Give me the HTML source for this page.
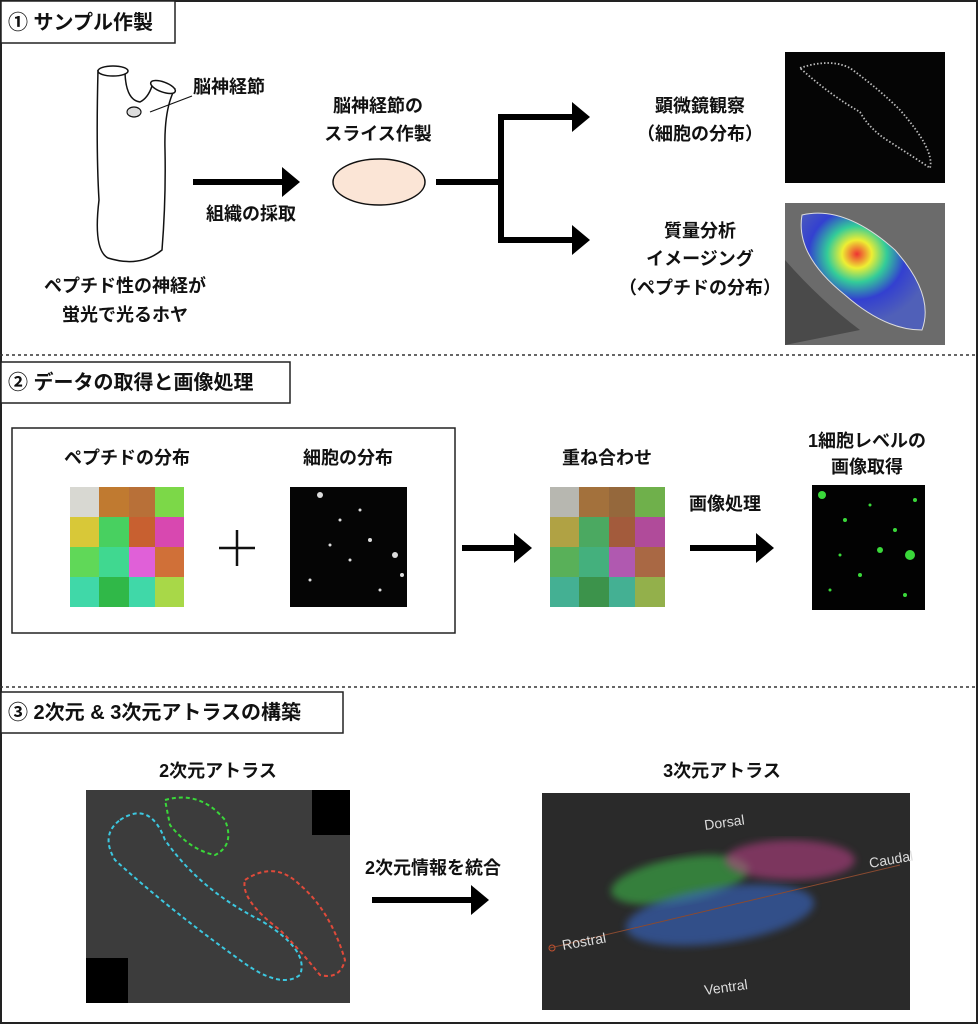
<!DOCTYPE html>
<html><head><meta charset="utf-8"><style>
html,body{margin:0;padding:0;background:#fff}
svg{display:block}
text{font-family:"Liberation Sans","Noto Sans CJK JP",sans-serif;font-weight:bold;fill:#111}
</style></head><body>
<svg width="978" height="1024" viewBox="0 0 978 1024" xmlns="http://www.w3.org/2000/svg">
<defs>
<marker id="ah" markerWidth="4" markerHeight="5" refX="2" refY="2.5" orient="auto" markerUnits="strokeWidth"><path d="M0,0 L3,2.5 L0,5 Z" fill="#000"/></marker>
<radialGradient id="heat" cx="45%" cy="35%" r="60%"><stop offset="0" stop-color="#e33"/><stop offset="0.2" stop-color="#ee3"/><stop offset="0.4" stop-color="#3c9"/><stop offset="0.65" stop-color="#3340d0"/><stop offset="1" stop-color="#5060b8"/></radialGradient>
<filter id="bl"><feGaussianBlur stdDeviation="4"/></filter>
</defs>
<rect x="1" y="1" width="976" height="1022" fill="none" stroke="#222" stroke-width="2"/>
<rect x="1" y="1" width="174" height="42" fill="#fff" stroke="#222" stroke-width="1.5"/>
<text x="8" y="29" font-size="20">① サンプル作製</text>
<line x1="0" y1="355" x2="978" y2="355" stroke="#333" stroke-width="1.5" stroke-dasharray="3,3"/>
<rect x="1" y="362" width="289" height="41" fill="#fff" stroke="#222" stroke-width="1.5"/>
<text x="8" y="389" font-size="20">② データの取得と画像処理</text>
<line x1="0" y1="687" x2="978" y2="687" stroke="#333" stroke-width="1.5" stroke-dasharray="3,3"/>
<rect x="1" y="692" width="342" height="41" fill="#fff" stroke="#222" stroke-width="1.5"/>
<text x="8" y="719" font-size="20">③ 2次元 &amp; 3次元アトラスの構築</text>

<path d="M98,70 Q96,150 99,200 Q93,250 108,258 Q140,268 162,250 Q166,200 165,150 Q164,115 172,95 L175,88" fill="none" stroke="#111" stroke-width="1.5"/>
<path d="M125,73 Q126,100 140,102 Q148,98 152,86" fill="none" stroke="#111" stroke-width="1.5"/>
<ellipse cx="113" cy="71" rx="15" ry="5" fill="#fff" stroke="#111" stroke-width="1.5"/>
<ellipse cx="163" cy="87" rx="13" ry="5" transform="rotate(20 163 87)" fill="#fff" stroke="#111" stroke-width="1.5"/>
<ellipse cx="134" cy="112" rx="7" ry="5" fill="#ddd" stroke="#111" stroke-width="1.2"/>
<line x1="150" y1="112" x2="192" y2="96" stroke="#111" stroke-width="1.2"/>
<text x="193" y="93" font-size="18">脳神経節</text>
<text x="125" y="292" font-size="18" text-anchor="middle">ペプチド性の神経が</text>
<text x="125" y="321" font-size="18" text-anchor="middle">蛍光で光るホヤ</text>
<line x1="193" y1="182" x2="294" y2="182" stroke="#000" stroke-width="6" marker-end="url(#ah)"/>
<text x="251" y="220" font-size="18" text-anchor="middle">組織の採取</text>
<text x="378" y="112" font-size="18" text-anchor="middle">脳神経節の</text>
<text x="378" y="140" font-size="18" text-anchor="middle">スライス作製</text>
<ellipse cx="379" cy="182" rx="46" ry="23" fill="#fbe5d6" stroke="#111" stroke-width="1.5"/>
<polyline points="436,182 501,182" stroke="#000" stroke-width="6" fill="none"/>
<line x1="501" y1="114" x2="501" y2="243" stroke="#000" stroke-width="6"/>
<line x1="498" y1="117" x2="584" y2="117" stroke="#000" stroke-width="6" marker-end="url(#ah)"/>
<line x1="498" y1="240" x2="584" y2="240" stroke="#000" stroke-width="6" marker-end="url(#ah)"/>
<text x="700" y="112" font-size="18" text-anchor="middle">顕微鏡観察</text>
<text x="700" y="140" font-size="18" text-anchor="middle">（細胞の分布）</text>
<text x="700" y="237" font-size="18" text-anchor="middle">質量分析</text>
<text x="700" y="265" font-size="18" text-anchor="middle">イメージング</text>
<text x="700" y="294" font-size="18" text-anchor="middle">（ペプチドの分布）</text>
<rect x="785" y="52" width="160" height="131" fill="#050505"/>
<path d="M800,68 Q830,58 850,68 Q880,90 900,110 Q935,150 930,168 Q915,158 890,142 Q870,130 860,112 Q830,95 800,68Z" fill="none" stroke="#bbb" stroke-width="1.8" stroke-dasharray="1.5,2"/>
<rect x="785" y="203" width="160" height="142" fill="#6b6b6b"/>
<path d="M785,260 Q820,300 860,330 L785,345Z" fill="#4a4a4a"/>
<path d="M802,215 Q845,205 895,250 Q935,295 922,330 Q885,330 845,295 Q795,255 802,215Z" fill="url(#heat)" stroke="#ddd" stroke-width="1"/>

<rect x="12" y="428" width="443" height="205" fill="none" stroke="#222" stroke-width="1.5"/>
<text x="127" y="464" font-size="18" text-anchor="middle">ペプチドの分布</text>
<text x="348" y="464" font-size="18" text-anchor="middle">細胞の分布</text>
<g>
<rect x="70" y="487" width="29" height="30" fill="#d8d8d2"/><rect x="99" y="487" width="30" height="30" fill="#c07a30"/><rect x="129" y="487" width="26" height="30" fill="#b87038"/><rect x="155" y="487" width="29" height="30" fill="#7cd848"/>
<rect x="70" y="517" width="29" height="30" fill="#d8c838"/><rect x="99" y="517" width="30" height="30" fill="#48d060"/><rect x="129" y="517" width="26" height="30" fill="#c86030"/><rect x="155" y="517" width="29" height="30" fill="#d848b0"/>
<rect x="70" y="547" width="29" height="30" fill="#60d858"/><rect x="99" y="547" width="30" height="30" fill="#40d890"/><rect x="129" y="547" width="26" height="30" fill="#e060d8"/><rect x="155" y="547" width="29" height="30" fill="#d07038"/>
<rect x="70" y="577" width="29" height="30" fill="#40d8a8"/><rect x="99" y="577" width="30" height="30" fill="#30b848"/><rect x="129" y="577" width="26" height="30" fill="#40d8a8"/><rect x="155" y="577" width="29" height="30" fill="#a8d848"/>
</g>
<line x1="237" y1="530" x2="237" y2="566" stroke="#111" stroke-width="2.5"/>
<line x1="219" y1="548" x2="255" y2="548" stroke="#111" stroke-width="2.5"/>
<rect x="290" y="487" width="117" height="120" fill="#050505"/>
<g fill="#ddd">
<circle cx="320" cy="495" r="3"/><circle cx="340" cy="520" r="1.5"/><circle cx="370" cy="540" r="2"/><circle cx="395" cy="555" r="3"/><circle cx="350" cy="560" r="1.5"/><circle cx="310" cy="580" r="1.5"/><circle cx="380" cy="590" r="1.5"/><circle cx="360" cy="510" r="1.5"/><circle cx="402" cy="575" r="2"/><circle cx="330" cy="545" r="1.5"/>
</g>
<line x1="462" y1="548" x2="526" y2="548" stroke="#000" stroke-width="6" marker-end="url(#ah)"/>
<text x="607" y="464" font-size="18" text-anchor="middle">重ね合わせ</text>
<g opacity="0.9">
<rect x="550" y="487" width="29" height="30" fill="#b0b0a8"/><rect x="579" y="487" width="30" height="30" fill="#9a6228"/><rect x="609" y="487" width="26" height="30" fill="#8a5828"/><rect x="635" y="487" width="30" height="30" fill="#60a838"/>
<rect x="550" y="517" width="29" height="30" fill="#a89830"/><rect x="579" y="517" width="30" height="30" fill="#38a050"/><rect x="609" y="517" width="26" height="30" fill="#9a4a28"/><rect x="635" y="517" width="30" height="30" fill="#a83890"/>
<rect x="550" y="547" width="29" height="30" fill="#48a848"/><rect x="579" y="547" width="30" height="30" fill="#30a870"/><rect x="609" y="547" width="26" height="30" fill="#a848a8"/><rect x="635" y="547" width="30" height="30" fill="#a05830"/>
<rect x="550" y="577" width="29" height="30" fill="#30a888"/><rect x="579" y="577" width="30" height="30" fill="#288838"/><rect x="609" y="577" width="26" height="30" fill="#30a888"/><rect x="635" y="577" width="30" height="30" fill="#88a838"/>
</g>
<text x="725" y="510" font-size="18" text-anchor="middle">画像処理</text>
<line x1="690" y1="548" x2="768" y2="548" stroke="#000" stroke-width="6" marker-end="url(#ah)"/>
<text x="867" y="447" font-size="18" text-anchor="middle">1細胞レベルの</text>
<text x="867" y="473" font-size="18" text-anchor="middle">画像取得</text>
<rect x="812" y="485" width="113" height="125" fill="#020202"/>
<g fill="#3ad83a">
<circle cx="822" cy="495" r="4"/><circle cx="845" cy="520" r="2"/><circle cx="880" cy="550" r="3"/><circle cx="910" cy="555" r="5"/><circle cx="895" cy="530" r="2"/><circle cx="860" cy="575" r="2"/><circle cx="830" cy="590" r="1.5"/><circle cx="905" cy="595" r="2"/><circle cx="870" cy="505" r="1.5"/><circle cx="915" cy="500" r="2"/><circle cx="840" cy="555" r="1.5"/>
</g>

<text x="218" y="777" font-size="18" text-anchor="middle">2次元アトラス</text>
<rect x="86" y="790" width="264" height="213" fill="#3c3c3c"/>
<rect x="312" y="790" width="38" height="45" fill="#000"/>
<rect x="86" y="958" width="42" height="45" fill="#000"/>
<path d="M165,800 Q200,790 225,820 Q235,845 215,855 Q190,850 170,825 Z" fill="none" stroke="#3ad83a" stroke-width="2" stroke-dasharray="4,3"/>
<path d="M120,820 Q150,800 165,840 Q200,890 260,920 Q310,950 300,975 Q280,990 240,960 Q170,910 115,860 Q100,835 120,820Z" fill="none" stroke="#3cc8e0" stroke-width="2" stroke-dasharray="4,3"/>
<path d="M245,880 Q275,860 300,885 Q330,910 345,960 Q340,980 320,975 Q300,950 280,930 Q240,900 245,880Z" fill="none" stroke="#e04a3a" stroke-width="2" stroke-dasharray="4,3"/>
<text x="433" y="874" font-size="18" text-anchor="middle">2次元情報を統合</text>
<line x1="372" y1="900" x2="483" y2="900" stroke="#000" stroke-width="6" marker-end="url(#ah)"/>
<text x="722" y="777" font-size="18" text-anchor="middle">3次元アトラス</text>
<rect x="542" y="793" width="368" height="217" fill="#2a2a2a"/>
<ellipse cx="680" cy="880" rx="70" ry="22" fill="#3cb84a" opacity="0.6" filter="url(#bl)" transform="rotate(-10 680 880)"/>
<ellipse cx="790" cy="860" rx="65" ry="20" fill="#c0408a" opacity="0.55" filter="url(#bl)"/>
<ellipse cx="720" cy="915" rx="95" ry="28" fill="#3868c8" opacity="0.6" filter="url(#bl)" transform="rotate(-8 720 915)"/>
<line x1="550" y1="948" x2="900" y2="865" stroke="#8a4a30" stroke-width="1"/>
<text x="705" y="830" font-size="14" style="font-weight:normal;fill:#ddd" transform="rotate(-8 705 830)">Dorsal</text>
<text x="870" y="868" font-size="14" style="font-weight:normal;fill:#ddd" transform="rotate(-10 870 868)">Caudal</text>
<text x="563" y="950" font-size="14" style="font-weight:normal;fill:#ddd" transform="rotate(-10 563 950)">Rostral</text>
<text x="705" y="995" font-size="14" style="font-weight:normal;fill:#ddd" transform="rotate(-8 705 995)">Ventral</text>
<circle cx="552" cy="948" r="3" fill="none" stroke="#c05030"/>
</svg>
</body></html>
